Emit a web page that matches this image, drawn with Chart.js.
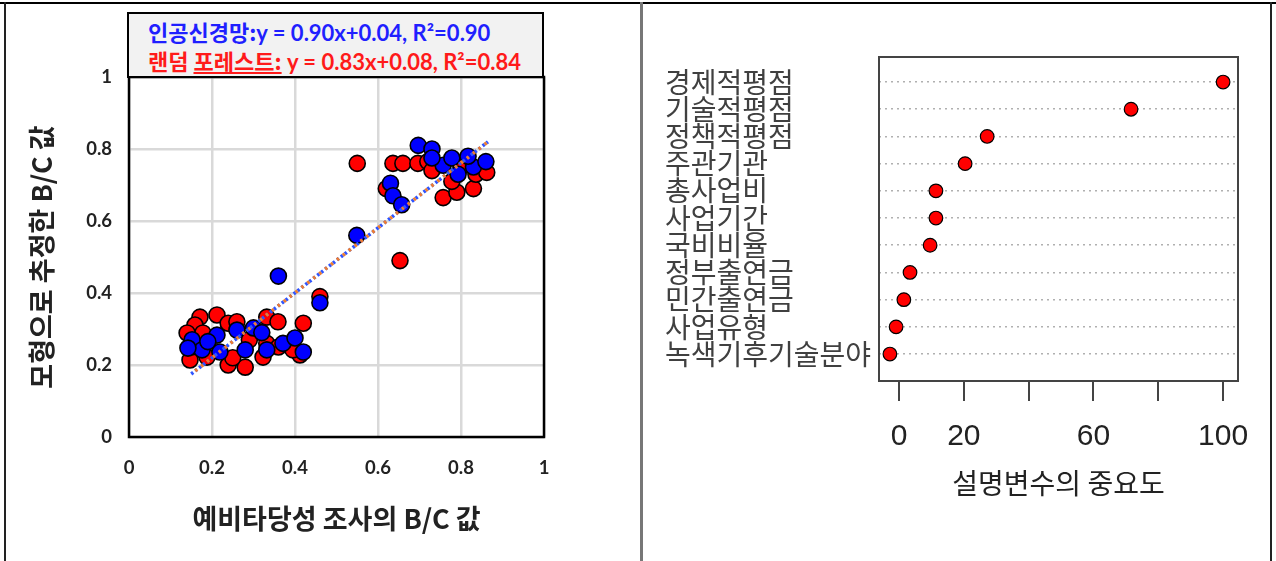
<!DOCTYPE html>
<html><head><meta charset="utf-8">
<script src="https://cdn.jsdelivr.net/npm/chart.js@4.4.1/dist/chart.umd.min.js"></script>
<style>
html,body{margin:0;padding:0;background:#fff;}
body{width:1276px;height:561px;position:relative;overflow:hidden;}
.ln{position:absolute;}
#c1wrap{position:absolute;left:7px;top:5px;width:633px;height:556px;}
#c2wrap{position:absolute;left:642px;top:5px;width:628px;height:556px;}
#leg{position:absolute;left:127px;top:12px;width:413px;height:62px;background:#f2f2f2;border:2px solid #000;font-weight:bold;font-size:22px;white-space:nowrap;}
#leg .l{position:absolute;left:19px;height:28px;line-height:28px;}
#leg .k{font-family:'Noto Sans CJK KR';}
#leg .e{font-family:'Lato','Liberation Sans';}
</style></head>
<body>
<div class="ln" style="left:0;top:2px;width:1276px;height:2px;background:#000"></div>
<div class="ln" style="left:4px;top:2px;width:2px;height:559px;background:#222"></div>
<div class="ln" style="left:640px;top:2px;width:3px;height:559px;background:#777"></div>
<div class="ln" style="left:1270px;top:2px;width:2px;height:559px;background:#222"></div>
<div id="c1wrap"><canvas id="c1" width="633" height="556"></canvas></div>
<div id="c2wrap"><canvas id="c2" width="628" height="556"></canvas></div>
<div id="leg">
 <div class="l" style="top:3px;color:#1f1fff"><span class="k">인공신경망:</span><span class="e">y = 0.90x+0.04, R²=0.90</span></div>
 <div class="l" style="top:32px;color:#ff1a1a"><span class="k">랜덤 <u>포레스트:</u></span><span class="e"> y = 0.83x+0.08, R²=0.84</span></div>
</div>
<script>
// ---- Left chart data ----
const rfX = [0.55,0.636,0.66,0.696,0.72,0.73,0.62,0.757,0.79,0.778,0.83,0.836,0.862,0.80,0.653,0.46,
  0.171,0.212,0.159,0.239,0.26,0.332,0.359,0.42,0.147,0.188,0.239,0.28,0.323,0.332,0.412,0.395,0.14,0.178,0.29,0.15,0.25,0.36];
const rfY = [0.76,0.76,0.76,0.76,0.765,0.74,0.69,0.665,0.68,0.71,0.69,0.73,0.735,0.75,0.49,0.39,
  0.333,0.339,0.311,0.316,0.32,0.333,0.32,0.316,0.214,0.222,0.2,0.194,0.222,0.26,0.228,0.242,0.289,0.289,0.27,0.25,0.22,0.25];
const annX = [0.697,0.73,0.757,0.778,0.793,0.83,0.86,0.817,0.73,0.63,0.636,0.657,0.549,0.36,0.46,
  0.152,0.212,0.26,0.30,0.176,0.219,0.28,0.332,0.371,0.40,0.42,0.142,0.19,0.32];
const annY = [0.81,0.80,0.755,0.775,0.73,0.75,0.765,0.78,0.775,0.705,0.67,0.645,0.56,0.447,0.373,
  0.27,0.283,0.297,0.303,0.242,0.236,0.242,0.242,0.26,0.275,0.236,0.247,0.265,0.29];
const trendX = [0.15,0.865];
const trendAnnY = [0.175,0.82];
const trendRfY = [0.175,0.82];
const axisTicks = [0,0.2,0.4,0.6,0.8,1];
const axisLabels = ['0','0.2','0.4','0.6','0.8','1'];

// ---- Right chart data ----
const varNames = ['경제적평점','기술적평점','정책적평점','주관기관','총사업비','사업기간','국비비율','정부출연금','민간출연금','사업유형','녹색기후기술분야'];
const importance = [100,71.6,27.2,20.4,11.4,11.4,9.6,3.4,1.5,-0.9,-2.8];
const impTicks = [0,20,40,60,80,100];
const impLabels = ['0','20','','60','','100'];

const zip = (xs, ys) => xs.map((x,i)=>({x, y: ys[i]}));

const framePlugin = {
  id:'frame',
  beforeDatasetsDraw(c, a, o){
    const {ctx, chartArea:{left,top,right,bottom}} = c;
    ctx.save(); ctx.strokeStyle=o.color; ctx.lineWidth=o.width;
    ctx.strokeRect(left,top,right-left,bottom-top); ctx.restore();
  }
};

const tickFont = {family:"'Lato','Liberation Sans'", size:18.5, weight:'bold'};
const titleFont = {family:"'Noto Sans CJK KR'", size:27, weight:'bold'};

new Chart(document.getElementById('c1'), {
  type:'scatter',
  data:{datasets:[
    {label:'랜덤 포레스트', data: zip(rfX, rfY), backgroundColor:'#ff0000', borderColor:'#000', borderWidth:1.6, pointRadius:8, order:3},
    {label:'인공신경망', data: zip(annX, annY), backgroundColor:'#0000ff', borderColor:'#000', borderWidth:1.6, pointRadius:8, order:2},
    {label:'trend ANN', data: zip(trendX, trendAnnY), showLine:true, pointRadius:0, borderColor:'#2f55ff', borderWidth:3.5, borderDash:[2.5,2.5], order:1},
    {label:'trend RF', data: zip(trendX, trendRfY), showLine:true, pointRadius:0, borderColor:'#ed7d31', borderWidth:3.5, borderDash:[2.5,5], borderDashOffset:2.5, order:0}
  ]},
  options:{
    responsive:false, animation:false, devicePixelRatio:1,
    layout:{padding:{left:0,top:72,right:96,bottom:0}},
    plugins:{legend:{display:false}, tooltip:{enabled:false}, frame:{color:'#000', width:2.5}},
    scales:{
      x:{type:'linear', min:0, max:1,
        afterBuildTicks: s => { s.ticks = axisTicks.map(v=>({value:v})); },
        afterFit: s => { s.height = 124; },
        grid:{color:'#d9d9d9', lineWidth:2.5, drawTicks:false},
        border:{display:false},
        ticks:{font:tickFont, color:'#222', padding:20, callback:(v,i)=>axisLabels[i]},
        title:{display:true, text:'예비타당성 조사의 B/C 값', font:titleFont, color:'#222', padding:{bottom:26}}
      },
      y:{type:'linear', min:0, max:1,
        afterBuildTicks: s => { s.ticks = axisTicks.map(v=>({value:v})); },
        afterFit: s => { s.width = 122; },
        grid:{color:'#d9d9d9', lineWidth:2.5, drawTicks:false},
        border:{display:false},
        ticks:{font:tickFont, color:'#222', padding:17, callback:(v,i)=>axisLabels[i]},
        title:{display:true, text:'모형으로 추정한 B/C 값', font:titleFont, color:'#222', padding:{top:19}}
      }
    }
  },
  plugins:[framePlugin]
});

new Chart(document.getElementById('c2'), {
  type:'scatter',
  data:{datasets:[
    {label:'중요도', data: importance.map((v,i)=>({x:v, y:i})), backgroundColor:'#ff0000', borderColor:'#000', borderWidth:1.2, pointRadius:6.8}
  ]},
  options:{
    responsive:false, animation:false, devicePixelRatio:1,
    layout:{padding:{left:23,top:52,right:32,bottom:0}},
    plugins:{legend:{display:false}, tooltip:{enabled:false}, frame:{color:'#444', width:2}},
    scales:{
      x:{type:'linear', min:-6.17, max:104.6,
        afterBuildTicks: s => { s.ticks = impTicks.map(v=>({value:v})); },
        afterFit: s => { s.height = 180; },
        grid:{drawOnChartArea:false, drawTicks:true, tickLength:20, color:'#444', lineWidth:2},
        border:{display:false},
        ticks:{font:{family:"'Liberation Sans'", size:30}, color:'#222', padding:18, maxRotation:0, autoSkip:false,
          callback:(v,i)=>impLabels[i]},
        title:{display:true, text:'설명변수의 중요도', font:{family:"'Noto Sans CJK KR'", size:28}, color:'#222', padding:{bottom:61}}
      },
      y:{type:'linear', min:-0.92, max:10.99, reverse:true,
        afterBuildTicks: s => { s.ticks = varNames.map((n,i)=>({value:i})); },
        afterFit: s => { s.width = 214; },
        grid:{color:'#b0b0b0', lineWidth:1.6, drawTicks:false},
        border:{display:false, dash:[2,4]},
        ticks:{font:{family:"'Noto Sans CJK KR'", size:28, lineHeight:1.0}, color:'#404040', padding:9, crossAlign:'far', autoSkip:false,
          callback:(v,i)=>varNames[i]}
      }
    }
  },
  plugins:[framePlugin]
});
</script>
</body></html>
